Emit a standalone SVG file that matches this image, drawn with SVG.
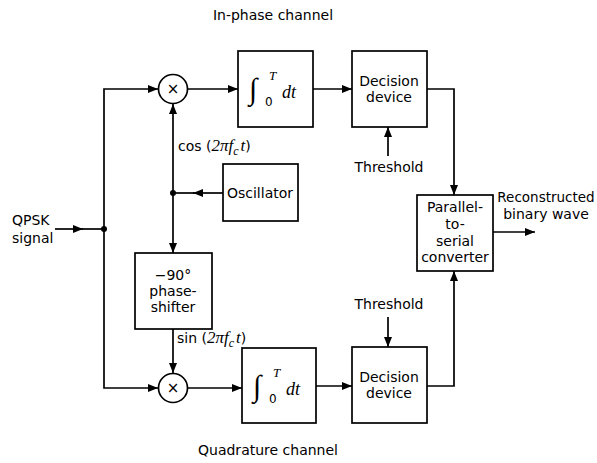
<svg xmlns="http://www.w3.org/2000/svg" width="597" height="463" viewBox="0 0 597 463">
<style>
.b{fill:#fff;stroke:#000;stroke-width:1.7}
.c{fill:none;stroke:#000;stroke-width:1.7}
.t{font-family:"DejaVu Sans",sans-serif;font-size:14px;fill:#000}
.m{text-anchor:middle}
.s{font-family:"Liberation Serif",serif;font-style:italic;fill:#000}
.i{font-family:"Liberation Serif",serif;font-style:italic;font-size:17px}
.x{font-family:"DejaVu Sans",sans-serif;font-size:15px;fill:#000;text-anchor:middle}
.g{font-family:"Liberation Serif",serif;font-size:30px;fill:#000}
</style>
<defs>
<marker id="a" markerUnits="userSpaceOnUse" markerWidth="10" markerHeight="8" refX="10" refY="4" orient="auto">
<path d="M0,0 L10,4 L0,8 z" fill="#000"/>
</marker>
</defs>
<rect width="597" height="463" fill="#fff"/>
<text class="t m" x="273" y="20">In-phase channel</text>
<text class="t m" x="268" y="455">Quadrature channel</text>
<g id="connectors">
<path class="c" d="M55,229 H83" marker-end="url(#a)"/>
<path class="c" d="M82,229 H104"/>
<path class="c" d="M104,229 V89 H158" marker-end="url(#a)"/>
<path class="c" d="M104,229 V388 H158" marker-end="url(#a)"/>
<path class="c" d="M188,89 H238" marker-end="url(#a)"/>
<path class="c" d="M313,89 H352" marker-end="url(#a)"/>
<path class="c" d="M188,388 H242" marker-end="url(#a)"/>
<path class="c" d="M316,386 H352" marker-end="url(#a)"/>
<path class="c" d="M223,193 H193" marker-end="url(#a)"/>
<path class="c" d="M194,193 H173"/>
<path class="c" d="M173,193 V104" marker-end="url(#a)"/>
<path class="c" d="M173,193 V253" marker-end="url(#a)"/>
<path class="c" d="M173,329 V373" marker-end="url(#a)"/>
<path class="c" d="M388,156 V127" marker-end="url(#a)"/>
<path class="c" d="M388,317 V347" marker-end="url(#a)"/>
<path class="c" d="M427,89 H454 V195" marker-end="url(#a)"/>
<path class="c" d="M427,386 H454 V271" marker-end="url(#a)"/>
<path class="c" d="M493,232 H535" marker-end="url(#a)"/>
<circle cx="104" cy="229" r="3"/>
<circle cx="173" cy="193" r="3"/>
</g>
<g id="input">
<text class="t" x="12" y="225">QPSK</text>
<text class="t" x="12" y="243">signal</text>
</g>
<g id="mult1">
<circle class="b" cx="173" cy="89" r="14.5"/>
<text class="x" x="173" y="94">×</text>
</g>
<g id="mult2">
<circle class="b" cx="173" cy="388" r="14.5"/>
<text class="x" x="173" y="393">×</text>
</g>
<g id="integ1">
<rect class="b" x="238" y="51" width="75" height="76"/>
<text class="g" x="249" y="99">∫</text>
<text class="s" x="269" y="80" font-size="13">T</text>
<text class="t" x="265" y="106" style="font-size:12px">0</text>
<text class="s" x="282" y="98" font-size="18">dt</text>
</g>
<g id="integ2">
<rect class="b" x="242" y="348" width="74" height="75"/>
<text class="g" x="253" y="396">∫</text>
<text class="s" x="273" y="377" font-size="13">T</text>
<text class="t" x="269" y="403" style="font-size:12px">0</text>
<text class="s" x="286" y="395" font-size="18">dt</text>
</g>
<g id="decision1">
<rect class="b" x="352" y="51" width="75" height="76"/>
<text class="t m" x="389" y="86">Decision</text>
<text class="t m" x="389" y="102">device</text>
</g>
<g id="decision2">
<rect class="b" x="352" y="347" width="75" height="76"/>
<text class="t m" x="389" y="382">Decision</text>
<text class="t m" x="389" y="398">device</text>
</g>
<g id="threshold1"><text class="t m" x="389" y="172">Threshold</text></g>
<g id="threshold2"><text class="t m" x="389" y="309">Threshold</text></g>
<g id="oscillator">
<rect class="b" x="223" y="164" width="75" height="57"/>
<text class="t m" x="260" y="198">Oscillator</text>
</g>
<g id="phaseshifter">
<rect class="b" x="135" y="253" width="77" height="76"/>
<text class="t m" x="173" y="280">−90°</text>
<text class="t m" x="173" y="296">phase-</text>
<text class="t m" x="173" y="312">shifter</text>
</g>
<g id="cos">
<text class="t" x="178" y="151">cos (<tspan class="i">2πf</tspan><tspan class="i" style="font-size:12px" dy="4">c</tspan><tspan class="i" dy="-4" dx="2">t</tspan>)</text>
</g>
<g id="sin">
<text class="t" x="177" y="343">sin (<tspan class="i">2πf</tspan><tspan class="i" style="font-size:12px" dy="4">c</tspan><tspan class="i" dy="-4" dx="2">t</tspan>)</text>
</g>
<g id="p2s">
<rect class="b" x="417" y="195" width="76" height="76"/>
<text class="t m" x="455" y="212">Parallel-</text>
<text class="t m" x="455" y="229">to-</text>
<text class="t m" x="455" y="246">serial</text>
<text class="t m" x="455" y="262">converter</text>
</g>
<g id="output">
<text class="t m" x="546" y="202" style="font-size:13.5px">Reconstructed</text>
<text class="t m" x="546" y="219">binary wave</text>
</g>
</svg>
